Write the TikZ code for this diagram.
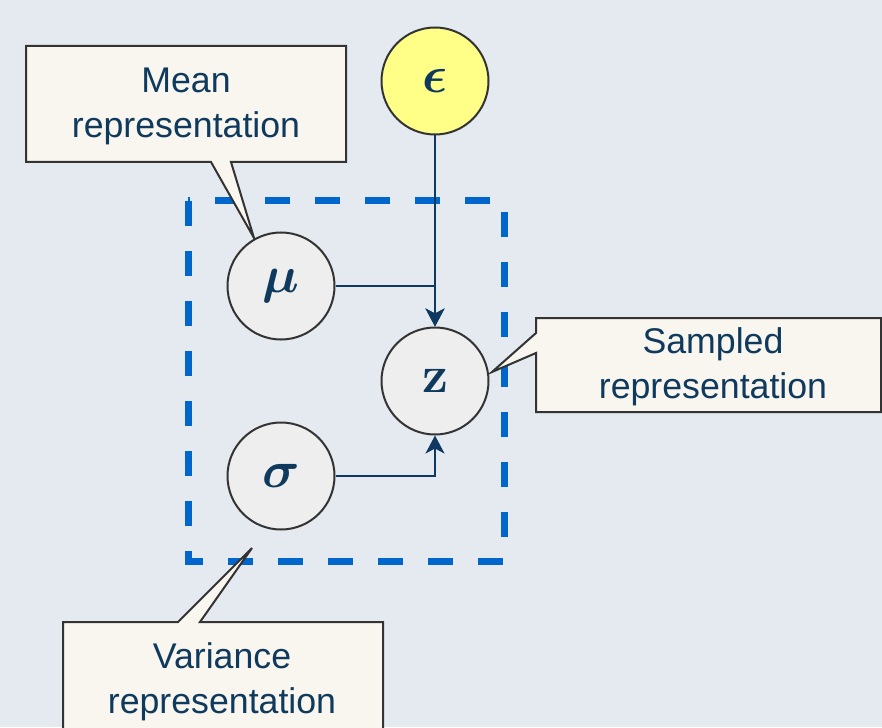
\documentclass[tikz,border=0pt]{standalone}
\usepackage{fix-cm}
\usepackage{amsmath}
\usepackage{bm}
\usepackage[no-math]{fontspec}
\setmainfont{Liberation Sans}
\usetikzlibrary{arrows.meta}
\definecolor{bgc}{HTML}{E5EAF0}
\definecolor{callfill}{HTML}{F8F6EE}
\definecolor{edgec}{HTML}{333333}
\definecolor{txtc}{HTML}{0F3A5E}
\definecolor{arrc}{HTML}{0E3A62}
\definecolor{circfill}{HTML}{EEEEEE}
\definecolor{epsfill}{HTML}{FFFF88}
\definecolor{dashc}{HTML}{0066CC}
\tikzset{
  callout/.style={draw=edgec, fill=callfill, line width=2pt, line join=miter},
  calltext/.style={text=txtc, align=center, font=\fontsize{35.7}{45}\selectfont, inner sep=0pt},
  var/.style={circle, draw=edgec, fill=circfill, line width=2pt, minimum size=107pt, inner sep=0pt, text=txtc, font=\fontsize{52}{60}\selectfont},
  arr/.style={draw=arrc, line width=2pt, -{Stealth[length=18pt,width=19pt,inset=5pt]}},
  groupbox/.style={draw=dashc, line width=7pt, dash pattern=on 25pt off 25pt}
}
\begin{document}
\begin{tikzpicture}[x=1pt,y=-1pt]
\fill[bgc] (0,0) rectangle (882,727);
\useasboundingbox (0,0) rectangle (882,727);
\clip (0,0) rectangle (882,727);
% dashed group
\draw[groupbox] (188,201) rectangle (504,561);
% callouts
\draw[callout] (26,46) -- (346,46) -- (346,162) -- (231,162) -- (254,238) -- (211,162) -- (26,162) -- cycle;
\node[calltext, anchor=base] (meantxt) at (186,138) {Mean\\representation};
\draw[callout] (536,318) -- (881,318) -- (881,412) -- (536,412) -- (536,353) -- (492,372) -- (536,333) -- cycle;
\node[calltext, anchor=base] (samptxt) at (713,398) {Sampled\\representation};
\draw[callout] (63,622) -- (178,622) -- (252,548) -- (200,622) -- (383,622) -- (383,745) -- (63,745) -- cycle;
\node[calltext, anchor=base] (vartxt) at (222,713) {Variance\\representation};
% variables
\node[var, fill=epsfill] (eps) at (435,81) {$\boldsymbol{\epsilon}$};
\node[var] (mu) at (281,286) {$\boldsymbol{\mu}$};
\node[var] (z) at (435,381) {$\mathbf{z}$};
\node[var] (sigma) at (281,476) {$\boldsymbol{\sigma}$};
% connectors
\draw[arr] (eps) -- (z);
\draw[arr] (mu.east) -| (z.north);
\draw[arr] (sigma.east) -| (z.south);
\end{tikzpicture}
\end{document}
